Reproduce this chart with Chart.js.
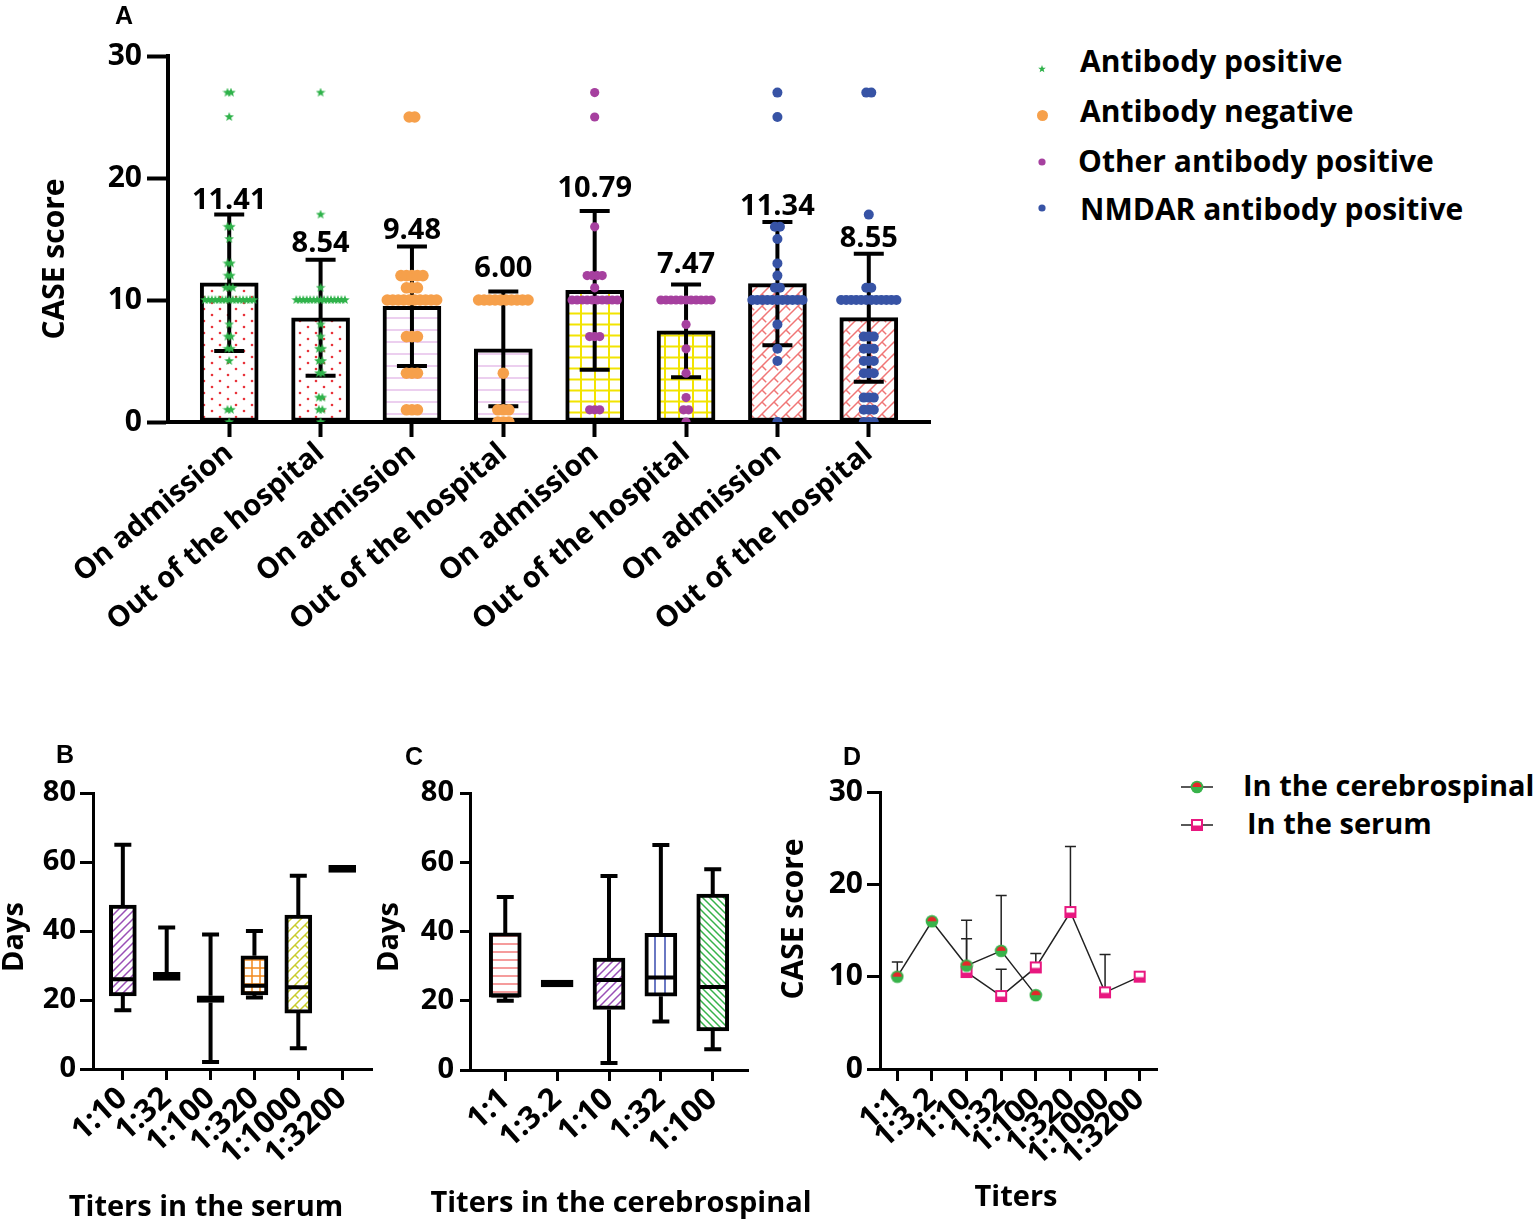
<!DOCTYPE html>
<html>
<head>
<meta charset="utf-8">
<title>CASE score and titers</title>
<script src="https://cdn.jsdelivr.net/npm/chart.js@4.4.1/dist/chart.umd.min.js"></script>
<style>
  html, body { margin: 0; padding: 0; background: #fff; }
  body { position: relative; width: 1535px; height: 1220px; overflow: hidden; font-family: 'Open Sans', sans-serif; color: #000; }
  canvas { position: absolute; }
  .txt { position: absolute; font-weight: 700; font-size: 30px; line-height: 36px; white-space: nowrap; }
  .txt.small { font-size: 29px; }
  .letter { position: absolute; font-family: 'Liberation Sans', Arial, sans-serif; font-weight: 700; font-size: 25px; line-height: 25px; }
</style>
</head>
<body>
<canvas id="chartA" width="1000" height="660" style="left:0;top:0"></canvas>
<canvas id="chartB" width="390" height="480" style="left:0;top:740px"></canvas>
<canvas id="chartC" width="460" height="480" style="left:370px;top:740px"></canvas>
<canvas id="chartD" width="420" height="480" style="left:770px;top:740px"></canvas>

<div class="letter" style="left:115px;top:3px">A</div>
<div class="letter" style="left:56px;top:742px">B</div>
<div class="letter" style="left:405px;top:744px">C</div>
<div class="letter" style="left:843px;top:744px">D</div>

<div class="txt" style="left:1080px;top:43px">Antibody positive</div>
<div class="txt" style="left:1080px;top:93px">Antibody negative</div>
<div class="txt" style="left:1078px;top:143px">Other antibody positive</div>
<div class="txt" style="left:1080px;top:191px">NMDAR antibody positive</div>

<div class="txt small" style="left:1243px;top:767px">In the cerebrospinal</div>
<div class="txt small" style="left:1247px;top:805px">In the serum</div>

<script>
// ---------- Panel A data ----------
const groupLabels = ['On admission', 'Out of the hospital', 'On admission', 'Out of the hospital',
                     'On admission', 'Out of the hospital', 'On admission', 'Out of the hospital'];
const groupMeans = [11.41, 8.54, 9.48, 6.00, 10.79, 7.47, 11.34, 8.55];
const groupSD = [5.6, 4.75, 4.9, 4.7, 6.5, 3.8, 5.05, 5.25];

const posAdmission = [27, 27, 25, 16, 16, 15, 13, 13, 12, 12, 11, 11, 11,
  10, 10, 10, 10, 10, 10, 10, 10, 10, 10, 10, 10, 10, 10, 10,
  8, 7, 7, 6, 6, 5, 1, 1, 0];
const posDischarge = [27, 17, 11,
  10, 10, 10, 10, 10, 10, 10, 10, 10, 10, 10, 10, 10, 10, 10,
  8, 7, 6, 6, 5, 5, 4, 4, 2, 2, 1, 1, 0];
const negAdmission = [25, 25, 12, 12, 12, 12, 12, 11, 11, 11,
  10, 10, 10, 10, 10, 10, 10, 10, 10, 10,
  7, 7, 7, 4, 4, 4, 1, 1, 1];
const negDischarge = [10, 10, 10, 10, 10, 10, 10, 10, 10, 10, 4, 1, 1, 1, 0, 0, 0];
const otherAdmission = [27, 25, 16, 12, 12, 12, 12, 11,
  10, 10, 10, 10, 10, 10, 10, 10, 10, 10,
  7, 7, 7, 1, 1, 1];
const otherDischarge = [10, 10, 10, 10, 10, 10, 10, 10, 10, 10, 10, 8, 6, 4, 2, 1, 1, 0];
const nmdarAdmission = [27, 25, 16, 16, 15, 13, 12, 11, 11,
  10, 10, 10, 10, 10, 10, 10, 10, 10, 10, 10,
  8, 6, 5, 0];
const nmdarDischarge = [27, 27, 17, 11, 11,
  10, 10, 10, 10, 10, 10, 10, 10, 10, 10, 10, 10,
  7, 7, 7, 6, 6, 6, 5, 5, 5, 4, 4, 4, 2, 2, 2, 1, 1, 1, 0, 0, 0];

// ---------- Panel B data (days, titers in the serum) ----------
const serumTiters = ['1:10', '1:32', '1:100', '1:320', '1:1000', '1:3200'];
const serumMin    = [17, 25.7, 2, 20.7, 6, 57];
const serumQ1     = [21.2, 25.7, 19.3, 21.5, 16.2, 57];
const serumMedian = [26, 27, 20, 24.1, 23.7, 58];
const serumQ3     = [47.5, 28, 21.2, 32.8, 44.6, 59];
const serumMax    = [65, 41, 39, 40, 56, 59];

// ---------- Panel C data (days, titers in the cerebrospinal) ----------
const csfTiters = ['1:1', '1:3.2', '1:10', '1:32', '1:100'];
const csfMin    = [20, 24, 2, 14, 6];
const csfQ1     = [21, 24, 17.5, 21.3, 11.3];
const csfMedian = [21.5, 25, 26, 26.7, 24];
const csfQ3     = [39.6, 26, 32.3, 39.5, 50.8];
const csfMax    = [50, 26, 56, 65, 58];

// ---------- Panel D data (CASE score by titer) ----------
const titerLabels = ['1:1', '1:3.2', '1:10', '1:32', '1:100', '1:320', '1:1000', '1:3200'];
const csfScore  = [10, 16, 11.2, 12.8, 8, null, null, null];
const csfSD     = [1.6, null, 4.9, 6.0, null, null, null, null];
const serumScore = [null, null, 10.5, 7.9, 11, 17, 8.3, 10];
const serumSD    = [null, null, 3.6, 2.9, 1.5, 7.1, 4.1, null];

Chart.defaults.font.family = "'Open Sans', sans-serif";
Chart.defaults.font.weight = 'bold';
Chart.defaults.color = '#000';

// ---------- fill patterns ----------
function tile(w, h, draw) {
  const c = document.createElement('canvas');
  c.width = w; c.height = h;
  const g = c.getContext('2d');
  g.fillStyle = '#fff';
  g.fillRect(0, 0, w, h);
  draw(g, w, h);
  return g.createPattern(c, 'repeat');
}
const dotsPattern = color => tile(16, 12, g => {
  g.fillStyle = color;
  [[4, 3], [12, 9]].forEach(([x, y]) => { g.beginPath(); g.arc(x, y, 1.3, 0, Math.PI * 2); g.fill(); });
});
const hLines = (color, gap, lw) => tile(8, gap, (g, w, h) => { g.fillStyle = color; g.fillRect(0, h / 2 - lw / 2, w, lw); });
const vLines = (color, gap, lw) => tile(gap, 8, (g, w, h) => { g.fillStyle = color; g.fillRect(w / 2 - lw / 2, 0, lw, h); });
const gridPattern = (color, gx, gy, lw) => tile(gx, gy, (g, w, h) => {
  g.fillStyle = color;
  g.fillRect(w / 2 - lw / 2, 0, lw, h);
  g.fillRect(0, h / 2 - lw / 2, w, lw);
});
const diagPattern = (color, s, lw, up) => tile(s, s, g => {
  g.strokeStyle = color; g.lineWidth = lw; g.beginPath();
  if (up) {
    g.moveTo(0, s); g.lineTo(s, 0);
    g.moveTo(-2, 2); g.lineTo(2, -2);
    g.moveTo(s - 2, s + 2); g.lineTo(s + 2, s - 2);
  } else {
    g.moveTo(0, 0); g.lineTo(s, s);
    g.moveTo(-2, s - 2); g.lineTo(2, s + 2);
    g.moveTo(s - 2, -2); g.lineTo(s + 2, 2);
  }
  g.stroke();
});
// herringbone-like brick: long "/" strokes with short "\" spurs
const brickPattern = (color, s, lw) => tile(s, s, g => {
  g.strokeStyle = color; g.lineWidth = lw; g.beginPath();
  g.moveTo(0, s); g.lineTo(s, 0);
  g.moveTo(-2, 2); g.lineTo(2, -2);
  g.moveTo(s - 2, s + 2); g.lineTo(s + 2, s - 2);
  g.moveTo(s / 2, s / 2); g.lineTo(s * 0.85, s * 0.85);
  g.stroke();
});

// ---------- marker images ----------
function starCanvas(size, color) {
  const c = document.createElement('canvas');
  c.width = c.height = size;
  const g = c.getContext('2d');
  g.fillStyle = color; g.beginPath();
  for (let i = 0; i < 10; i++) {
    const r = i % 2 ? size * 0.21 : size * 0.5;
    const a = -Math.PI / 2 + i * Math.PI / 5;
    g.lineTo(size / 2 + r * Math.cos(a), size / 2 + r * Math.sin(a));
  }
  g.closePath(); g.fill();
  return c;
}
function dotCanvas(r, color) {
  const c = document.createElement('canvas');
  c.width = c.height = Math.ceil(r * 2 + 2);
  const g = c.getContext('2d');
  g.fillStyle = color; g.beginPath(); g.arc(c.width / 2, c.height / 2, r, 0, Math.PI * 2); g.fill();
  return c;
}
function csfMarker(withLine) {
  const c = document.createElement('canvas');
  c.width = withLine ? 32 : 14; c.height = 14;
  const g = c.getContext('2d');
  const cx = c.width / 2, cy = 7;
  if (withLine) { g.fillStyle = '#222'; g.fillRect(0, cy - 0.75, c.width, 1.5); }
  g.fillStyle = '#37b34a'; g.beginPath(); g.arc(cx, cy, 6.3, 0, Math.PI * 2); g.fill();
  g.fillStyle = '#e5262a'; g.beginPath(); g.arc(cx, cy, 4.6, Math.PI, 0); g.closePath(); g.fill();
  return c;
}
function serumMarker(withLine) {
  const c = document.createElement('canvas');
  c.width = withLine ? 32 : 14; c.height = 14;
  const g = c.getContext('2d');
  const cx = c.width / 2, cy = 7;
  if (withLine) { g.fillStyle = '#222'; g.fillRect(0, cy - 0.75, c.width, 1.5); }
  g.fillStyle = '#e8177f'; g.fillRect(cx - 6, cy - 6, 12, 12);
  g.fillStyle = '#fff'; g.fillRect(cx - 4, cy - 4, 8, 4.5);
  return c;
}
function placeMarker(c, cx, cy) {
  c.style.left = (cx - c.width / 2) + 'px';
  c.style.top = (cy - c.height / 2) + 'px';
  document.body.appendChild(c);
}

// spread repeated values sideways around a category centre
function swarm(values, center, step) {
  const counts = {}, seen = {};
  values.forEach(v => { counts[v] = (counts[v] || 0) + 1; });
  return values.map(v => {
    seen[v] = (seen[v] === undefined ? 0 : seen[v] + 1);
    return { x: center + (seen[v] - (counts[v] - 1) / 2) * step, y: v };
  });
}

// ---------- plugins ----------
const freeText = {
  id: 'freeText',
  afterDraw(chart, args, opts) {
    const ctx = chart.ctx;
    (opts.items || []).forEach(t => {
      ctx.save();
      ctx.translate(t.x, t.y);
      ctx.rotate(t.rot || 0);
      ctx.font = "bold " + t.size + "px 'Open Sans', sans-serif";
      ctx.fillStyle = '#000';
      ctx.textAlign = 'center';
      ctx.textBaseline = 'alphabetic';
      ctx.fillText(t.text, 0, 0);
      ctx.restore();
    });
  }
};

const meanErrorBars = {
  id: 'meanErrorBars',
  afterDatasetDraw(chart, args) {
    if (args.index !== 0) return;
    const { ctx, scales: { x, y } } = chart;
    ctx.save();
    ctx.strokeStyle = '#000'; ctx.lineWidth = 4;
    groupMeans.forEach((m, i) => {
      const px = x.getPixelForValue(i);
      const top = y.getPixelForValue(m + groupSD[i]);
      const bot = y.getPixelForValue(m - groupSD[i]);
      ctx.beginPath();
      ctx.moveTo(px, top); ctx.lineTo(px, bot);
      ctx.moveTo(px - 15, top); ctx.lineTo(px + 15, top);
      ctx.moveTo(px - 15, bot); ctx.lineTo(px + 15, bot);
      ctx.stroke();
    });
    ctx.restore();
  },
  afterDatasetsDraw(chart, args, opts) {
    const { ctx, scales: { x, y } } = chart;
    ctx.save();
    ctx.font = "bold 29px 'Open Sans', sans-serif";
    ctx.fillStyle = '#000'; ctx.textAlign = 'center'; ctx.textBaseline = 'alphabetic';
    groupMeans.forEach((m, i) => {
      const lift = opts.lift ? opts.lift[i] : 6;
      ctx.fillText(m.toFixed(2), x.getPixelForValue(i), y.getPixelForValue(m + groupSD[i]) - lift);
    });
    ctx.restore();
  }
};

const whiskers = {
  id: 'whiskers',
  afterDatasetsDraw(chart, args, opts) {
    const { ctx, scales: { x, y } } = chart;
    ctx.save();
    ctx.strokeStyle = '#000'; ctx.lineWidth = 4;
    opts.min.forEach((mn, i) => {
      const px = x.getPixelForValue(i);
      const half = opts.box / 2 - 2, cap = opts.cap / 2;
      ctx.beginPath();
      if (opts.max[i] > opts.q3[i]) {
        const t = y.getPixelForValue(opts.max[i]);
        ctx.moveTo(px, y.getPixelForValue(opts.q3[i])); ctx.lineTo(px, t);
        ctx.moveTo(px - cap, t); ctx.lineTo(px + cap, t);
      }
      if (mn < opts.q1[i]) {
        const b = y.getPixelForValue(mn);
        ctx.moveTo(px, y.getPixelForValue(opts.q1[i])); ctx.lineTo(px, b);
        ctx.moveTo(px - cap, b); ctx.lineTo(px + cap, b);
      }
      const md = y.getPixelForValue(opts.med[i]);
      ctx.moveTo(px - half, md); ctx.lineTo(px + half, md);
      ctx.stroke();
    });
    ctx.restore();
  }
};

const upperErrors = {
  id: 'upperErrors',
  beforeDatasetsDraw(chart, args, opts) {
    const { ctx, scales: { x, y } } = chart;
    ctx.save();
    ctx.strokeStyle = '#222'; ctx.lineWidth = 1.5;
    opts.series.forEach(s => {
      s.values.forEach((v, i) => {
        if (v === null || s.sd[i] === null) return;
        const px = x.getPixelForValue(i);
        const top = y.getPixelForValue(v + s.sd[i]);
        ctx.beginPath();
        ctx.moveTo(px, y.getPixelForValue(v)); ctx.lineTo(px, top);
        ctx.moveTo(px - 5.5, top); ctx.lineTo(px + 5.5, top);
        ctx.stroke();
      });
    });
    ctx.restore();
  }
};

function axisStyle(tickLength, width) {
  return {
    grid: { drawOnChartArea: false, offset: false, tickLength: tickLength, tickWidth: width, tickColor: '#000' },
    border: { display: true, color: '#000', width: width }
  };
}
const base = { responsive: false, animation: false, events: [] };
const noLegend = { legend: { display: false }, tooltip: { enabled: false } };

function build() {
  // ---------- Panel A ----------
  const fillsA = [dotsPattern('#e8333b'), dotsPattern('#e8333b'),
                  hLines('#e2b6e6', 12, 1.3), hLines('#e2b6e6', 12, 1.3),
                  gridPattern('#f2e400', 14, 11, 2), gridPattern('#f2e400', 14, 11, 2),
                  brickPattern('#f07676', 12, 1.5), brickPattern('#f07676', 12, 1.5)];
  new Chart(document.getElementById('chartA'), {
    type: 'bar',
    data: {
      datasets: [
        { type: 'bar', order: 1, data: groupMeans.map((m, i) => ({ x: i, y: m })),
          backgroundColor: fillsA, borderColor: '#000', borderWidth: 4, borderSkipped: false, barThickness: 58 },
        { type: 'scatter', order: 0, label: 'Antibody positive',
          data: swarm(posAdmission, 0, 0.038).concat(swarm(posDischarge, 1, 0.038)),
          pointStyle: starCanvas(10, '#2fb24a'), pointRadius: 5 },
        { type: 'scatter', order: 0, label: 'Antibody negative',
          data: swarm(negAdmission, 2, 0.06).concat(swarm(negDischarge, 3, 0.06)),
          pointStyle: 'circle', pointRadius: 5.8, backgroundColor: '#f6a04b', borderWidth: 0 },
        { type: 'scatter', order: 0, label: 'Other antibody positive',
          data: swarm(otherAdmission, 4, 0.055).concat(swarm(otherDischarge, 5, 0.055)),
          pointStyle: 'circle', pointRadius: 4.6, backgroundColor: '#a6409f', borderWidth: 0 },
        { type: 'scatter', order: 0, label: 'NMDAR antibody positive',
          data: swarm(nmdarAdmission, 6, 0.055).concat(swarm(nmdarDischarge, 7, 0.055)),
          pointStyle: 'circle', pointRadius: 5, backgroundColor: '#3753a5', borderWidth: 0 }
      ]
    },
    options: Object.assign({}, base, {
      layout: { padding: { left: 0, top: 56, right: 70, bottom: 0 } },
      scales: {
        x: Object.assign({
          type: 'linear', min: -0.67, max: 7.67, offset: false,
          afterBuildTicks: s => { s.ticks = groupLabels.map((_, i) => ({ value: i })); },
          afterFit: s => { s.height = 238; },
          ticks: { autoSkip: false, minRotation: 40, maxRotation: 40, padding: -1,
                   font: { size: 29, weight: 'bold' }, callback: (v, i) => groupLabels[i] }
        }, axisStyle(15, 4)),
        y: Object.assign({
          min: 0, max: 30,
          afterFit: s => { s.width = 168; },
          ticks: { stepSize: 10, padding: 5, font: { size: 30, weight: 'bold' } }
        }, axisStyle(21, 4))
      },
      plugins: Object.assign({}, noLegend, {
        meanErrorBars: { lift: [5, 8, 8, 14, 14, 12, 7, 7] },
        freeText: { items: [{ text: 'CASE score', x: 64, y: 259, rot: -Math.PI / 2, size: 30 }] }
      })
    }),
    plugins: [meanErrorBars, freeText]
  });

  // ---------- Panel B ----------
  const fillsB = [diagPattern('#9a4fb6', 8, 1.5, true), '#000', '#000',
                  gridPattern('#f2891d', 8, 8, 1.5), brickPattern('#c8cb2a', 10, 1.5), '#000'];
  new Chart(document.getElementById('chartB'), {
    type: 'bar',
    data: {
      datasets: [{ data: serumQ1.map((q, i) => ({ x: i, y: [q, serumQ3[i]] })),
        backgroundColor: fillsB, borderColor: '#000', borderWidth: 4, borderSkipped: false, barThickness: 27 }]
    },
    options: Object.assign({}, base, {
      layout: { padding: { left: 0, top: 53, right: 18, bottom: 0 } },
      scales: {
        x: Object.assign({
          type: 'linear', min: -0.68, max: 5.68, offset: false,
          afterBuildTicks: s => { s.ticks = serumTiters.map((_, i) => ({ value: i })); },
          afterFit: s => { s.height = 151; },
          ticks: { autoSkip: false, minRotation: 42, maxRotation: 42, padding: 0,
                   font: { size: 31, weight: 'bold' }, callback: (v, i) => serumTiters[i] }
        }, axisStyle(11, 3)),
        y: Object.assign({
          min: 0, max: 80,
          afterFit: s => { s.width = 93; },
          ticks: { stepSize: 20, padding: 4, font: { size: 29, weight: 'bold' } }
        }, axisStyle(13, 3))
      },
      plugins: Object.assign({}, noLegend, {
        whiskers: { min: serumMin, q1: serumQ1, med: serumMedian, q3: serumQ3, max: serumMax, box: 27, cap: 17 },
        freeText: { items: [
          { text: 'Days', x: 23, y: 197, rot: -Math.PI / 2, size: 29 },
          { text: 'Titers in the serum', x: 206, y: 476, size: 29 }
        ] }
      })
    }),
    plugins: [whiskers, freeText]
  });

  // ---------- Panel C ----------
  const fillsC = [hLines('#f06868', 8, 1.3), '#000', diagPattern('#9a4fb6', 8, 1.5, true),
                  vLines('#3a4cb0', 10, 1.5), diagPattern('#36b24a', 7, 1.5, false)];
  new Chart(document.getElementById('chartC'), {
    type: 'bar',
    data: {
      datasets: [{ data: csfQ1.map((q, i) => ({ x: i, y: [q, csfQ3[i]] })),
        backgroundColor: fillsC, borderColor: '#000', borderWidth: 4, borderSkipped: false, barThickness: 32 }]
    },
    options: Object.assign({}, base, {
      layout: { padding: { left: 0, top: 53, right: 82, bottom: 0 } },
      scales: {
        x: Object.assign({
          type: 'linear', min: -0.68, max: 4.68, offset: false,
          afterBuildTicks: s => { s.ticks = csfTiters.map((_, i) => ({ value: i })); },
          afterFit: s => { s.height = 150; },
          ticks: { autoSkip: false, minRotation: 42, maxRotation: 42, padding: 0,
                   font: { size: 31, weight: 'bold' }, callback: (v, i) => csfTiters[i] }
        }, axisStyle(11, 3)),
        y: Object.assign({
          min: 0, max: 80,
          afterFit: s => { s.width = 100; },
          ticks: { stepSize: 20, padding: 6, font: { size: 29, weight: 'bold' } }
        }, axisStyle(10, 3))
      },
      plugins: Object.assign({}, noLegend, {
        whiskers: { min: csfMin, q1: csfQ1, med: csfMedian, q3: csfQ3, max: csfMax, box: 32, cap: 17 },
        freeText: { items: [
          { text: 'Days', x: 28, y: 197, rot: -Math.PI / 2, size: 29 },
          { text: 'Titers in the cerebrospinal', x: 251, y: 472, size: 29 }
        ] }
      })
    }),
    plugins: [whiskers, freeText]
  });

  // ---------- Panel D ----------
  new Chart(document.getElementById('chartD'), {
    type: 'line',
    data: {
      labels: titerLabels,
      datasets: [
        { label: 'In the cerebrospinal', data: csfScore, borderColor: '#222', borderWidth: 1.5,
          pointStyle: csfMarker(false), spanGaps: false, tension: 0 },
        { label: 'In the serum', data: serumScore, borderColor: '#222', borderWidth: 1.5,
          pointStyle: serumMarker(false), spanGaps: false, tension: 0 }
      ]
    },
    options: Object.assign({}, base, {
      layout: { padding: { left: 0, top: 52, right: 33, bottom: 0 } },
      scales: {
        x: Object.assign({
          offset: true,
          afterFit: s => { s.height = 151; },
          ticks: { autoSkip: false, minRotation: 42, maxRotation: 42, padding: 0, font: { size: 31, weight: 'bold' } }
        }, axisStyle(12, 3)),
        y: Object.assign({
          min: 0, max: 30,
          afterFit: s => { s.width = 110; },
          ticks: { stepSize: 10, padding: 4, font: { size: 30, weight: 'bold' } }
        }, axisStyle(13, 3))
      },
      plugins: Object.assign({}, noLegend, {
        upperErrors: { series: [{ values: csfScore, sd: csfSD }, { values: serumScore, sd: serumSD }] },
        freeText: { items: [
          { text: 'CASE score', x: 33, y: 179, rot: -Math.PI / 2, size: 30 },
          { text: 'Titers', x: 246, y: 466, size: 29 }
        ] }
      })
    }),
    plugins: [upperErrors, freeText]
  });

  // legend markers
  placeMarker(starCanvas(8, '#2fb24a'), 1042, 69);
  placeMarker(dotCanvas(5.5, '#f6a04b'), 1042, 115);
  placeMarker(dotCanvas(3.6, '#a6409f'), 1042, 162);
  placeMarker(dotCanvas(3.6, '#3753a5'), 1042, 208);
  placeMarker(csfMarker(true), 1197, 787);
  placeMarker(serumMarker(true), 1197, 825);
}

if (document.fonts && document.fonts.load) {
  document.fonts.load("bold 30px 'Open Sans'").then(build, build);
} else {
  build();
}
</script>
</body>
</html>
